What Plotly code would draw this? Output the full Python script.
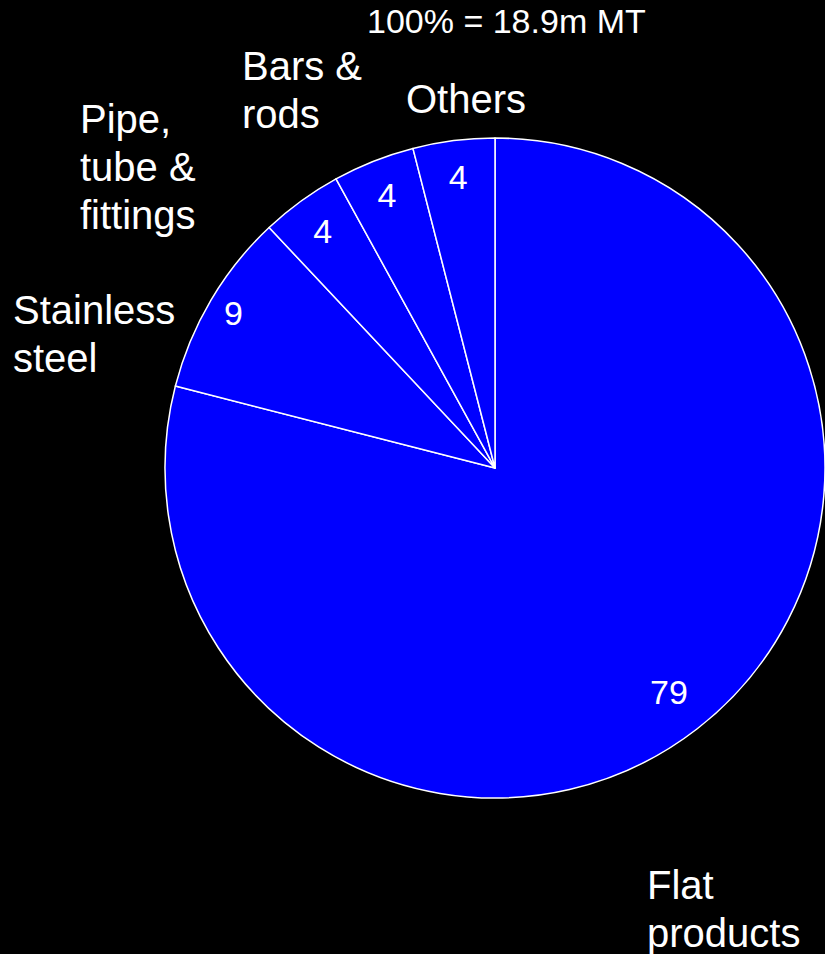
import math
import plotly.graph_objects as go

# Segment shares (%) of the total, clockwise from 12 o'clock
categories = ["Flat products", "Stainless steel", "Pipe, tube & fittings", "Bars & rods", "Others"]
shares = [79, 9, 4, 4, 4]

# Category labels split into display lines
label_lines = [
    ["Flat", "products"],
    ["Stainless", "steel"],
    ["Pipe,", "tube &", "fittings"],
    ["Bars &", "rods"],
    ["Others"],
]

title_text = "100% = 18.9m MT"

W, H = 825, 954
FONT = "Liberation Sans, Arial, sans-serif"
LABEL_SIZE = 40
VALUE_SIZE = 34
LINE_GAP = 48

# Left edge and first baseline (px) of each category label
label_place = [
    (646, 899),
    (12, 324),
    (79, 133),
    (241, 80),
    (405, 113),
]

# Value labels of the wide segments sit on the bisector at this fraction of the radius;
# the narrow segments use the pie's own inside text
value_radius = [0.86, 0.92, None, None, None]

DOM_X = [0.2, 1.0]
DOM_Y = [0.1635, 0.8553]

fig = go.Figure(
    go.Pie(
        labels=categories,
        values=shares,
        sort=False,
        direction="clockwise",
        rotation=0,
        marker=dict(colors=["#0000FF"] * len(shares), line=dict(color="#FFFFFF", width=1.5)),
        texttemplate="%{value}",
        textposition=["none" if f is not None else "inside" for f in value_radius],
        insidetextorientation="horizontal",
        insidetextfont=dict(family=FONT, size=VALUE_SIZE, color="#FFFFFF"),
        domain=dict(x=DOM_X, y=DOM_Y),
        showlegend=False,
        hoverinfo="label+value",
    )
)

annotations = []


def add_line(text, x_px, baseline, size, anchor="left"):
    # centre the text box on the line's mid-height (ascent/descent of Liberation Sans)
    mid = baseline - 0.3465 * size
    annotations.append(
        dict(
            text=text,
            x=x_px / W,
            y=1 - mid / H,
            xref="paper",
            yref="paper",
            xanchor=anchor,
            yanchor="middle",
            showarrow=False,
            font=dict(family=FONT, size=size, color="#FFFFFF"),
            borderpad=0,
        )
    )


for lines, (xl, base) in zip(label_lines, label_place):
    for i, line in enumerate(lines):
        add_line(line, xl, base + i * LINE_GAP, LABEL_SIZE)

add_line(title_text, 507, 33, 34, anchor="center")

# Pie geometry in paper coordinates, as plotly lays it out
cx = (DOM_X[0] + DOM_X[1]) / 2
cy = (DOM_Y[0] + DOM_Y[1]) / 2
radius_px = min(W * (DOM_X[1] - DOM_X[0]), H * (DOM_Y[1] - DOM_Y[0])) / 2

total = sum(shares)
start = 0.0
for value, frac in zip(shares, value_radius):
    mid_angle = (start + value / 2) / total * 2 * math.pi  # clockwise from 12 o'clock
    start += value
    if frac is None:
        continue
    r = frac * radius_px
    annotations.append(
        dict(
            text=str(value),
            x=cx + r * math.sin(mid_angle) / W,
            y=cy + r * math.cos(mid_angle) / H,
            xref="paper",
            yref="paper",
            xanchor="center",
            yanchor="middle",
            showarrow=False,
            font=dict(family=FONT, size=VALUE_SIZE, color="#FFFFFF"),
            borderpad=0,
        )
    )

fig.update_layout(
    width=W,
    height=H,
    margin=dict(l=0, r=0, t=0, b=0),
    paper_bgcolor="#000000",
    plot_bgcolor="#000000",
    annotations=annotations,
)

fig.write_html("out.html")
